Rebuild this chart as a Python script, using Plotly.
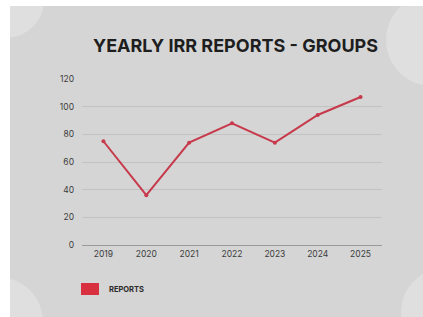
import plotly.graph_objects as go

years = ["2019", "2020", "2021", "2022", "2023", "2024", "2025"]
reports = [75, 36, 74, 88, 74, 94, 107]
y_ticks = [0, 20, 40, 60, 80, 100, 120]
title_text = "YEARLY IRR REPORTS - GROUPS"
legend_label = "REPORTS"

W, H = 423, 317
L, R, T, B = 82, 382, 79, 245  # plot area in pixels


def px(x):
    return (x - L) / (R - L)


def py(y):
    return (B - y) / (B - T)


BG = "#d5d5d5"
CIRC = "#dfdfdf"
LINE = "#c73a4b"

fig = go.Figure()
fig.add_trace(go.Scatter(
    x=years, y=reports, mode="lines+markers",
    line=dict(color=LINE, width=2),
    marker=dict(color=LINE, size=4),
    showlegend=False, name=legend_label,
))

shapes = []
# gray background panel
shapes.append(dict(type="rect", xref="paper", yref="paper", layer="below",
                   x0=px(10), x1=px(W + 5), y0=py(6), y1=py(H + 5),
                   fillcolor=BG, line=dict(width=0)))
# decorative circles
for cx, cy, r in [(6, 0, 38), (432, 40, 46), (-2, 322, 45), (445, 312, 44)]:
    shapes.append(dict(type="circle", xref="paper", yref="paper", layer="below",
                       x0=px(cx - r), x1=px(cx + r), y0=py(cy + r), y1=py(cy - r),
                       fillcolor=CIRC, line=dict(width=0)))
# white margins
shapes.append(dict(type="rect", xref="paper", yref="paper", layer="below",
                   x0=px(-5), x1=px(W + 5), y0=py(6), y1=py(-5),
                   fillcolor="white", line=dict(width=0)))
shapes.append(dict(type="rect", xref="paper", yref="paper", layer="below",
                   x0=px(-5), x1=px(10), y0=py(H + 5), y1=py(-5),
                   fillcolor="white", line=dict(width=0)))
# legend swatch
shapes.append(dict(type="rect", xref="paper", yref="paper", layer="above",
                   x0=px(81), x1=px(99), y0=py(295), y1=py(283),
                   fillcolor="#d9303f", line=dict(width=0)))

annotations = [
    dict(text="<b>" + title_text + "</b>", xref="paper", yref="paper",
         x=px(235), y=py(46), showarrow=False, xanchor="center", yanchor="middle",
         font=dict(family="Inter", size=18, color="#1e1e1e")),
    dict(text="<b>" + legend_label + "</b>", xref="paper", yref="paper",
         x=px(107), y=py(289), showarrow=False, xanchor="left", yanchor="middle",
         font=dict(family="Inter", size=7.5, color="#2a2a2a")),
]

fig.update_layout(
    width=W, height=H,
    margin=dict(l=L, r=W - R, t=T, b=H - B, pad=0),
    paper_bgcolor="white", plot_bgcolor="rgba(0,0,0,0)",
    shapes=shapes, annotations=annotations,
    showlegend=False,
    xaxis=dict(type="category", categoryorder="array", categoryarray=years,
               range=[-0.5, 6.5], showgrid=False, showline=False, zeroline=False,
               ticks="", tickfont=dict(family="Inter", size=8.5, color="#3c3c3c"),
               ticklabelstandoff=2, fixedrange=True),
    yaxis=dict(range=[0, 120], tickvals=y_ticks, showgrid=True,
               gridcolor="#c2c2c2", gridwidth=1, zeroline=True,
               zerolinecolor="#9a9a9a", zerolinewidth=1, showline=False,
               ticks="", tickfont=dict(family="Inter", size=8.5, color="#3c3c3c"),
               ticklabelstandoff=7, fixedrange=True),
)

fig.write_html(
    "out.html",
    config={"displayModeBar": False},
    post_script="document.body.style.margin='0';document.body.style.overflow='hidden';",
)
